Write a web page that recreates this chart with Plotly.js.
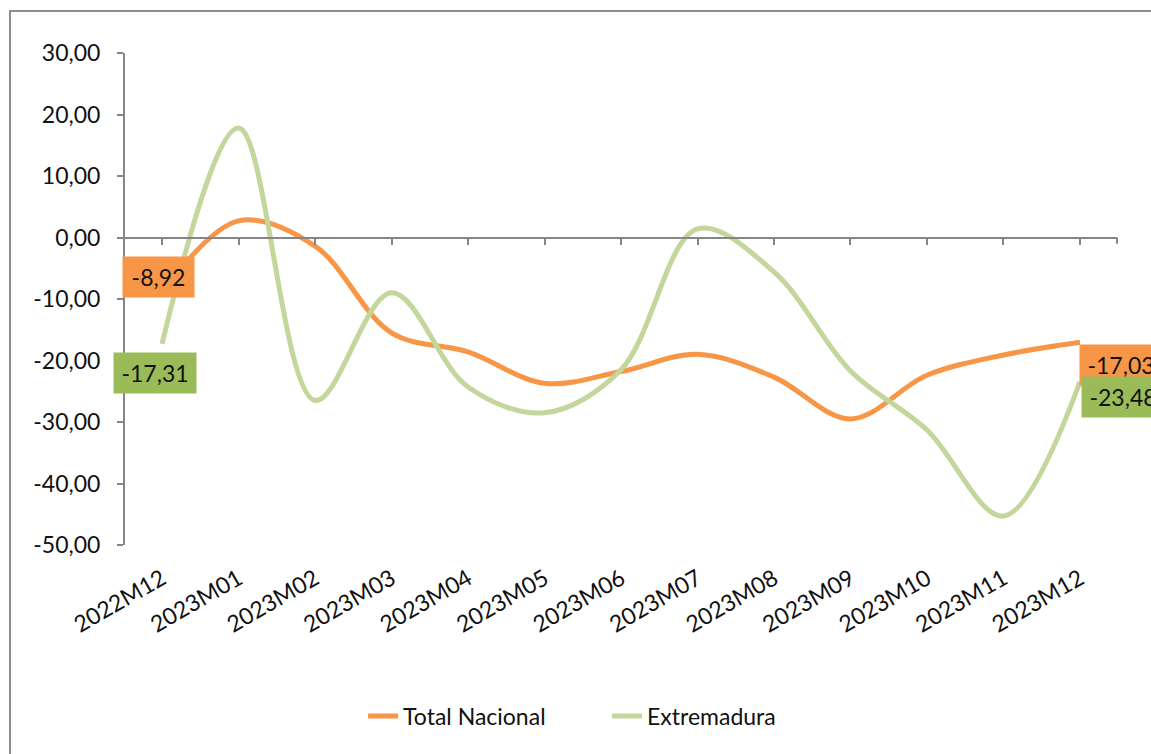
<!DOCTYPE html>
<html>
<head>
<meta charset="utf-8">
<script src="https://cdn.plot.ly/plotly-3.0.1.min.js"></script>
<style>
  html, body { margin: 0; padding: 0; background: #ffffff; }
  #chart { width: 1151px; height: 754px; }
</style>
</head>
<body>
<div id="chart"></div>
<script>
// ---- data ----
var categories = ['2022M12','2023M01','2023M02','2023M03','2023M04','2023M05','2023M06',
                  '2023M07','2023M08','2023M09','2023M10','2023M11','2023M12'];
var totalNacional = [-8.92, 2.7, -1.4, -15.5, -18.6, -23.7, -21.8, -19.0, -22.7, -29.5, -22.4, -19.1, -17.03];
var extremadura   = [-17.31, 17.8, -26.5, -9.0, -24.3, -28.5, -21.5, 1.4, -5.6, -21.7, -31.3, -45.3, -23.48];
var seriesNames = ['Total Nacional', 'Extremadura'];
var yTicks = [-50, -40, -30, -20, -10, 0, 10, 20, 30];

// ---- styles ----
var FONT = 'Lato, "Open Sans", sans-serif';
var TXT = '#111111';
var AX = '#868686';
var ORANGE = '#F79646', GREEN = '#C3D69B';
var ORANGE_LBL = '#F79646', GREEN_LBL = '#9BBB59';
var FS = 23;

function fmt(v) { return v.toFixed(2).replace('.', ','); }

var xr = [-0.484, 12.484];

var traces = [
  { x: categories, y: totalNacional, name: seriesNames[0], type: 'scatter', mode: 'lines',
    line: { color: ORANGE, width: 5, shape: 'spline', smoothing: 1 }, hoverinfo: 'skip',
    legend: 'legend' },
  { x: categories, y: extremadura, name: seriesNames[1], type: 'scatter', mode: 'lines',
    line: { color: GREEN, width: 5, shape: 'spline', smoothing: 1 }, hoverinfo: 'skip',
    legend: 'legend2' },
  { x: categories, y: categories.map(function(){ return null; }), xaxis: 'x2', yaxis: 'y',
    type: 'scatter', mode: 'lines', showlegend: false, hoverinfo: 'skip' }
];

var last = categories.length - 1;
function lbl(cat, val, xs, ys, bg, w) {
  return { x: cat, y: val, xref: 'x', yref: 'y', text: fmt(val), showarrow: false,
           xshift: xs, yshift: ys, bgcolor: bg, width: w, height: 38,
           font: { family: FONT, size: FS, color: TXT } };
}
var annotations = [
  lbl(categories[0], totalNacional[0], -3.5, 15, ORANGE_LBL, 69),
  lbl(categories[0], extremadura[0], -7, -29.5, GREEN_LBL, 80),
  lbl(categories[last], totalNacional[last], 41.5, -23, ORANGE_LBL, 80),
  lbl(categories[last], extremadura[last], 43.5, -14.6, GREEN_LBL, 80)
];

var layout = {
  width: 1151, height: 754,
  margin: { l: 125, r: 34, t: 53, b: 209, pad: 0 },
  paper_bgcolor: '#ffffff', plot_bgcolor: '#ffffff',
  separators: ',.',
  font: { family: FONT, size: FS, color: TXT },
  showlegend: true,
  xaxis: {
    type: 'category', range: xr, showline: false, ticks: '', showgrid: false, zeroline: false,
    tickangle: -30, ticklabelstandoff: 15, tickfont: { family: FONT, size: FS, color: TXT }, fixedrange: true
  },
  xaxis2: {
    type: 'category', range: xr, overlaying: 'x', anchor: 'free', position: 0.625, side: 'bottom',
    showline: true, linecolor: AX, linewidth: 2, ticks: 'outside', ticklen: 6, tickwidth: 2,
    tickcolor: AX, showticklabels: false, showgrid: false, zeroline: false, fixedrange: true
  },
  yaxis: {
    range: [-50, 30], tickmode: 'array', tickvals: yTicks, ticktext: yTicks.map(fmt),
    showline: true, linecolor: AX, linewidth: 2, ticks: 'outside', ticklen: 6, tickwidth: 2,
    tickcolor: AX, showgrid: false, zeroline: false, ticklabelstandoff: 12,
    tickfont: { family: FONT, size: FS, color: TXT }, fixedrange: true
  },
  legend: {
    orientation: 'h', x: 0.24, xanchor: 'left', y: -0.3476, yanchor: 'middle',
    font: { family: FONT, size: FS, color: TXT }, bgcolor: 'rgba(0,0,0,0)'
  },
  legend2: {
    orientation: 'h', x: 0.4859, xanchor: 'left', y: -0.3476, yanchor: 'middle',
    font: { family: FONT, size: FS, color: TXT }, bgcolor: 'rgba(0,0,0,0)'
  },
  annotations: annotations,
  shapes: [
    { type: 'path', xref: 'paper', yref: 'paper',
      path: 'M -0.1159,-0.45 L -0.1159,1.0854 L 1.1,1.0854',
      line: { color: '#8c8c8c', width: 2 } },
    { type: 'line', xref: 'paper', yref: 'y', x0: 1, x1: 1, y0: 0, y1: -1,
      line: { color: AX, width: 2 } }
  ]
};

Plotly.newPlot('chart', traces, layout, { displayModeBar: false, staticPlot: true });
</script>
</body>
</html>
